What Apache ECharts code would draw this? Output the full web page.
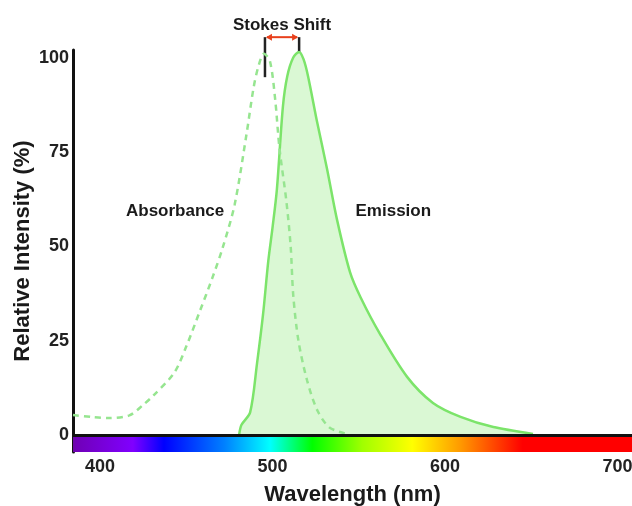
<!DOCTYPE html>
<html>
<head>
<meta charset="utf-8">
<script src="https://cdn.jsdelivr.net/npm/echarts@6/dist/echarts.min.js"></script>
<style>
  html, body { margin: 0; padding: 0; background: #fff; overflow: hidden; }
  #chart { width: 632px; height: 506px; }
</style>
</head>
<body>
<div id="chart"></div>
<script>
// wavelength range shown (nm) and intensity range (%)
var xMin = 384.3, xMax = 708.4
var yMin = -4.5, yMax = 102
var xTicks = [400, 500, 600, 700]
var yTicks = [0, 25, 50, 75, 100]

// absorbance spectrum (dashed)
var absWl  = [384.3, 395, 405, 417, 425, 431, 443, 450, 458, 465, 471, 478, 485, 489, 492, 495, 498.5, 501.5, 504, 508, 510.5, 512, 515, 520, 526, 533, 543]
var absVal = [5.3, 4.8, 4.5, 5.2, 8, 10.5, 16.5, 23.5, 33, 41.5, 49.5, 61, 80, 92, 98, 101, 99, 89, 76, 62, 50, 37, 25, 14.5, 6.5, 2, 0.3]

// emission spectrum (filled)
var emWl  = [480.6, 482, 487, 491, 494.5, 497.5, 500, 502.5, 506, 508.5, 512, 515.4, 518, 520.6, 525.8, 531.6, 537.4, 545, 551, 562, 578, 593, 609, 628, 651]
var emVal = [0, 2.7, 6, 19, 32, 46, 55, 65, 87, 95, 100, 101.5, 99.5, 95, 83, 70.5, 57, 43, 36.5, 27, 15.4, 8.5, 4.8, 2.1, 0.3]

// peaks used for the stokes shift marker
var absPeak = 495.6, emPeak = 515.4

// visible spectrum bar under the axis
var specWl    = [384.3, 386, 419, 437, 472, 498.5, 523, 552, 581, 609, 645, 708.4]
var specColor = ['#6a0aa0', '#7000b8', '#8000ff', '#0000ff', '#0080ff', '#00ffff', '#00ff00', '#a0ff00', '#ffff00', '#ff9900', '#ff0000', '#ff0000']

var font = 'Liberation Sans, Arial, sans-serif'

var toPairs = function (xs, ys) {
    var out = []
    for (var i = 0; i < xs.length; i++) out.push([xs[i], ys[i]])
    return out
}

var stops = []
for (var i = 0; i < specWl.length; i++) {
    stops.push({ offset: (specWl[i] - xMin) / (xMax - xMin), color: specColor[i] })
}

var chart = echarts.init(document.getElementById('chart'))

var option = {
    animation: false,
    backgroundColor: '#fff',
    grid: { left: 73, right: 0, top: 50, bottom: 54, outerBoundsMode: 'none' },
    xAxis: {
        type: 'value',
        min: xMin,
        max: xMax,
        name: 'Wavelength (nm)',
        nameLocation: 'middle',
        nameGap: 32,
        nameMoveOverlap: false,
        nameTextStyle: { fontFamily: font, fontWeight: 'bold', fontSize: 22, color: '#1a1a1a' },
        axisLine: { show: false, onZero: false },
        axisTick: { show: false },
        splitLine: { show: false },
        axisLabel: {
            customValues: xTicks,
            margin: 6,
            fontFamily: font, fontWeight: 'bold', fontSize: 18, color: '#222'
        }
    },
    yAxis: {
        type: 'value',
        min: yMin,
        max: yMax,
        name: 'Relative Intensity (%)',
        nameLocation: 'middle',
        nameGap: 39,
        nameMoveOverlap: false,
        nameTextStyle: { fontFamily: font, fontWeight: 'bold', fontSize: 22, color: '#1a1a1a' },
        axisLine: { show: true, lineStyle: { color: '#111', width: 3 } },
        axisTick: { show: false },
        splitLine: { show: false },
        axisLabel: {
            customValues: yTicks,
            margin: 4,
            fontFamily: font, fontWeight: 'bold', fontSize: 18, color: '#222'
        }
    },
    series: [
        {
            name: 'Emission',
            type: 'line',
            data: toPairs(emWl, emVal),
            smooth: 0.3,
            symbol: 'none',
            lineStyle: { color: '#7ce46a', width: 2.5 },
            areaStyle: { color: '#daf8d4', opacity: 1 },
            z: 2,
            markArea: {
                silent: true,
                itemStyle: {
                    color: { type: 'linear', x: 0, y: 0, x2: 1, y2: 0, colorStops: stops }
                },
                data: [[{ xAxis: xMin, yAxis: yMin }, { xAxis: xMax, yAxis: 0 }]]
            }
        },
        {
            name: 'Absorbance',
            type: 'line',
            data: toPairs(absWl, absVal),
            smooth: 0.3,
            symbol: 'none',
            lineStyle: { color: '#96e590', width: 2.5, type: [6, 5] },
            z: 3,
            markLine: {
                silent: true,
                symbol: ['none', 'none'],
                label: { show: false },
                lineStyle: { color: '#111', width: 3, type: 'solid' },
                data: [{ yAxis: 0 }]
            }
        }
    ]
}
chart.setOption(option)

// annotations placed through the chart's own scales
var px = function (x, y) { return chart.convertToPixel({ gridIndex: 0 }, [x, y]) }
var a1 = px(absPeak, 105.4), a2 = px(absPeak, 94.8)
var e1 = px(emPeak, 105.4), e2 = px(emPeak, 94.8)
var head = 6
var red = '#e8401c'
var labelStyle = { fontFamily: font, fontWeight: 'bold', fontSize: 17, fill: '#1a1a1a', align: 'center', verticalAlign: 'middle' }
var absLabel = px(443.5, 59.3), emLabel = px(570, 59.3), stokesLabel = px((absPeak + emPeak) / 2, 108.6)

chart.setOption({
    graphic: [
        { type: 'line', shape: { x1: a1[0], y1: a1[1], x2: a2[0], y2: a2[1] }, style: { stroke: '#222', lineWidth: 2.5 } },
        { type: 'line', shape: { x1: e1[0], y1: e1[1], x2: e2[0], y2: e2[1] }, style: { stroke: '#222', lineWidth: 2.5 } },
        { type: 'line', shape: { x1: a1[0] + 2, y1: a1[1], x2: e1[0] - 2, y2: e1[1] }, style: { stroke: red, lineWidth: 2 } },
        { type: 'polygon', shape: { points: [[a1[0] + 1, a1[1]], [a1[0] + 1 + head, a1[1] - 3.5], [a1[0] + 1 + head, a1[1] + 3.5]] }, style: { fill: red } },
        { type: 'polygon', shape: { points: [[e1[0] - 1, e1[1]], [e1[0] - 1 - head, e1[1] - 3.5], [e1[0] - 1 - head, e1[1] + 3.5]] }, style: { fill: red } },
        { type: 'text', x: stokesLabel[0], y: stokesLabel[1], style: Object.assign({ text: 'Stokes Shift' }, labelStyle) },
        { type: 'text', x: absLabel[0], y: absLabel[1], style: Object.assign({ text: 'Absorbance' }, labelStyle) },
        { type: 'text', x: emLabel[0], y: emLabel[1], style: Object.assign({ text: 'Emission' }, labelStyle) }
    ]
})
</script>
</body>
</html>
